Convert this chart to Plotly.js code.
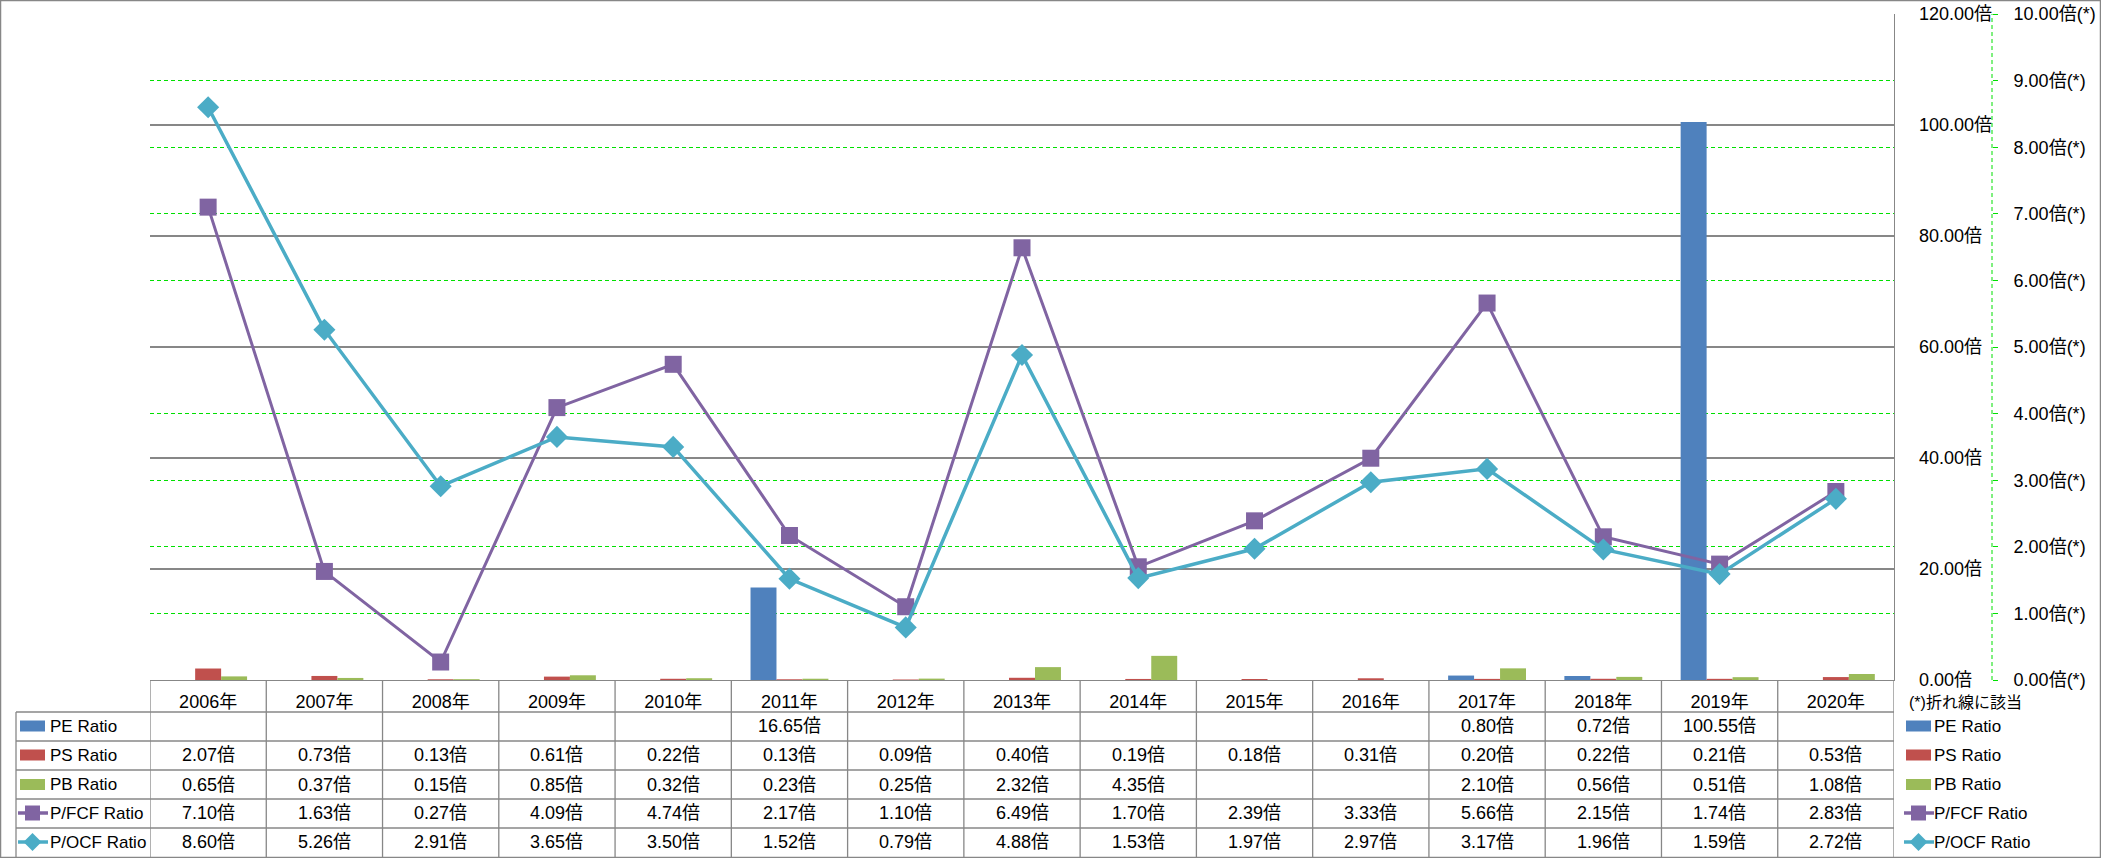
<!DOCTYPE html>
<html><head><meta charset="utf-8">
<script src="https://cdn.plot.ly/plotly-3.0.1.min.js"></script>
<style>html,body{margin:0;padding:0;background:#fff}#chart{width:2101px;height:858px}</style>
</head><body><div id="chart"></div>
<script>
const years = ['2006年','2007年','2008年','2009年','2010年','2011年','2012年','2013年','2014年','2015年','2016年','2017年','2018年','2019年','2020年'];
const peRatio  = [null,null,null,null,null,16.65,null,null,null,null,null,0.80,0.72,100.55,null];
const psRatio  = [2.07,0.73,0.13,0.61,0.22,0.13,0.09,0.40,0.19,0.18,0.31,0.20,0.22,0.21,0.53];
const pbRatio  = [0.65,0.37,0.15,0.85,0.32,0.23,0.25,2.32,4.35,null,null,2.10,0.56,0.51,1.08];
const pfcfRatio = [7.10,1.63,0.27,4.09,4.74,2.17,1.10,6.49,1.70,2.39,3.33,5.66,2.15,1.74,2.83];
const pocfRatio = [8.60,5.26,2.91,3.65,3.50,1.52,0.79,4.88,1.53,1.97,2.97,3.17,1.96,1.59,2.72];
const seriesNames = ['PE Ratio','PS Ratio','PB Ratio','P/FCF Ratio','P/OCF Ratio'];
const secondaryGridVals = [1,2,3,4,6,7,8,9];

const W = 2101, H = 858;
const L = 150, R = 1894, T = 14, B = 680;
const AX2 = 1992;
const px = v => v / W, py = v => 1 - v / H;
const C = {pe:'#4F81BD', ps:'#C0504D', pb:'#9BBB59', fcf:'#8064A2', ocf:'#4BACC6'};
const gray = '#878787', green = '#00E000';
const FAM = 'Liberation Sans, Arial, Noto Sans CJK JP, sans-serif';
const tfont = {family:FAM, size:18, color:'#000'};
const lfont = {family:FAM, size:17, color:'#000'};

const traces = [
  {type:'bar', name:seriesNames[0], x:years, y:peRatio, marker:{color:C.pe}, yaxis:'y'},
  {type:'bar', name:seriesNames[1], x:years, y:psRatio, marker:{color:C.ps}, yaxis:'y'},
  {type:'bar', name:seriesNames[2], x:years, y:pbRatio, marker:{color:C.pb}, yaxis:'y'},
  {type:'scatter', mode:'lines+markers', name:seriesNames[3], x:years, y:pfcfRatio, yaxis:'y2',
   line:{color:C.fcf, width:3}, marker:{symbol:'square', size:17, color:C.fcf}},
  {type:'scatter', mode:'lines+markers', name:seriesNames[4], x:years, y:pocfRatio, yaxis:'y2',
   line:{color:C.ocf, width:3.5}, marker:{symbol:'diamond', size:17, color:C.ocf}}
];

const rowsY = [726, 755, 784.5, 813, 842];
const rowData = [peRatio, psRatio, pbRatio, pfcfRatio, pocfRatio];
const annotations = [];
rowData.forEach((arr, r) => {
  arr.forEach((v, i) => {
    if (v === null) return;
    annotations.push({x:years[i], xref:'x', y:py(rowsY[r]), yref:'paper', text:v.toFixed(2)+'倍',
      showarrow:false, font:tfont, xanchor:'center', yanchor:'middle'});
  });
});
seriesNames.forEach((n, r) => {
  annotations.push({x:px(48), xref:'paper', y:py(rowsY[r]), yref:'paper', text:n, showarrow:false,
    font:lfont, xanchor:'left', yanchor:'middle'});
  annotations.push({x:px(1932), xref:'paper', y:py(rowsY[r]), yref:'paper', text:n, showarrow:false,
    font:lfont, xanchor:'left', yanchor:'middle'});
});
annotations.push({x:px(1907), xref:'paper', y:py(702), yref:'paper', text:'(*)折れ線に該当', showarrow:false,
  font:{family:FAM, size:16, color:'#000'}, xanchor:'left', yanchor:'middle'});

const shapes = [];
shapes.push({type:'rect', xref:'paper', yref:'paper', x0:px(0.5), x1:px(2100.5), y0:py(857.5), y1:py(0.5), line:{color:gray, width:1.5}});
shapes.push({type:'line', xref:'paper', yref:'paper', x0:px(AX2), x1:px(AX2), y0:py(B), y1:py(T), line:{color:green, width:1, dash:'4px,3px'}});
[712, 741, 770, 799, 828].forEach(y => shapes.push({type:'line', xref:'paper', yref:'paper', x0:px(16), x1:px(R), y0:py(y), y1:py(y), line:{color:gray, width:1.3}}));
for (let k = 0; k <= years.length; k++) {
  shapes.push({type:'line', xref:'x', yref:'paper', x0:k-0.5, x1:k-0.5, y0:py(B), y1:py(857), line:{color:gray, width:1.3}});
}
shapes.push({type:'line', xref:'paper', yref:'paper', x0:px(16), x1:px(16), y0:py(712), y1:py(857), line:{color:gray, width:1.3}});
function legendSym(x0, r) {
  const yc = rowsY[r];
  if (r < 3) {
    const col = [C.pe, C.ps, C.pb][r];
    shapes.push({type:'rect', xref:'paper', yref:'paper', x0:px(x0), x1:px(x0+25), y0:py(yc+5.5), y1:py(yc-5.5), fillcolor:col, line:{width:0}});
  } else {
    const col = r === 3 ? C.fcf : C.ocf;
    const xc = x0 + 12.5;
    shapes.push({type:'line', xref:'paper', yref:'paper', x0:px(x0-2), x1:px(x0+28), y0:py(yc), y1:py(yc), line:{color:col, width:3.5}});
    if (r === 3) {
      shapes.push({type:'rect', xref:'paper', yref:'paper', x0:px(xc-7.5), x1:px(xc+7.5), y0:py(yc+7.5), y1:py(yc-7.5), fillcolor:col, line:{width:0}});
    } else {
      const d = 9;
      shapes.push({type:'path', xref:'paper', yref:'paper',
        path:`M ${px(xc)} ${py(yc-d)} L ${px(xc+d)} ${py(yc)} L ${px(xc)} ${py(yc+d)} L ${px(xc-d)} ${py(yc)} Z`,
        fillcolor:col, line:{width:0}});
    }
  }
}
for (let r = 0; r < 5; r++) { legendSym(20, r); legendSym(1906, r); }

const layout = {
  width:W, height:H, margin:{l:0, r:0, t:0, b:0}, paper_bgcolor:'#fff', plot_bgcolor:'rgba(0,0,0,0)',
  showlegend:false, barmode:'group', bargap:0.33, bargroupgap:0,
  xaxis:{domain:[px(L), px(R)], type:'category', range:[-0.5, 14.5], showline:true, linecolor:gray, linewidth:1.3,
    ticks:'', showgrid:false, zeroline:false, tickfont:tfont, ticklabelstandoff:5},
  yaxis:{domain:[py(B), py(T)], range:[0,120], dtick:20, tick0:0, side:'right', showline:true, linecolor:gray, linewidth:1.3,
    ticks:'', showgrid:true, gridcolor:gray, gridwidth:1.3, zeroline:false, tickformat:'.2f', ticksuffix:'倍',
    tickfont:tfont, ticklabelstandoff:20},
  yaxis2:{overlaying:'y', anchor:'free', position:px(AX2), side:'right', range:[0,10], dtick:1, tick0:0,
    showline:false, ticks:'outside', ticklen:5, tickcolor:green, tickwidth:1, showgrid:false, zeroline:false,
    minor:{tickmode:'array', tickvals:secondaryGridVals, showgrid:true, gridcolor:green, gridwidth:1, griddash:'4px,3px', ticks:''},
    tickformat:'.2f', ticksuffix:'倍(*)', tickfont:tfont, ticklabelstandoff:12},
  annotations:annotations, shapes:shapes
};
Plotly.newPlot('chart', traces, layout, {displayModeBar:false, staticPlot:true});
</script></body></html>
